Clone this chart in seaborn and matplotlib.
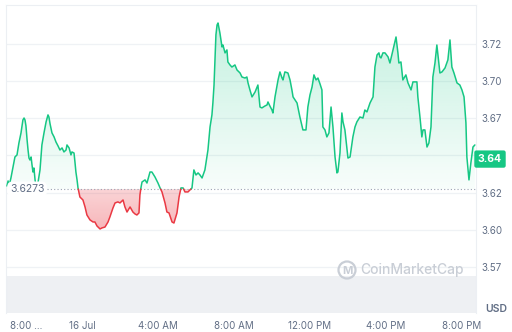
import numpy as np
import pandas as pd
import matplotlib
matplotlib.use("Agg")
import matplotlib.pyplot as plt
import matplotlib.transforms as mtransforms
from matplotlib.path import Path
from matplotlib.patches import Ellipse
import seaborn as sns

# ---------------- data (hours relative to 16 Jul 00:00, price in USD) -------------
hours = [-3.95, -3.89, -3.84, -3.74, -3.63, -3.53, -3.42, -3.32, -3.21, -3.11, -3.05, -3.00,
         -2.95, -2.89, -2.84, -2.79, -2.74, -2.68, -2.63, -2.58, -2.53, -2.47, -2.42, -2.32,
         -2.21, -2.11, -2.00, -1.89, -1.79, -1.74, -1.68, -1.58, -1.47, -1.37, -1.26, -1.16,
         -1.05, -0.95, -0.84, -0.79, -0.68, -0.58, -0.53, -0.42, -0.37, -0.32, -0.26, -0.21,
         -0.11, 0.05, 0.16, 0.26, 0.42, 0.58, 0.68, 0.79, 0.95, 1.05, 1.21, 1.37, 1.47, 1.63,
         1.74, 1.89, 2.00, 2.16, 2.26, 2.37, 2.53, 2.68, 2.79, 2.89, 3.00, 3.05, 3.11, 3.16,
         3.32, 3.42, 3.58, 3.68, 3.84, 4.00, 4.11, 4.21, 4.37, 4.47, 4.58, 4.74, 4.84, 5.00,
         5.11, 5.21, 5.32, 5.42, 5.58, 5.68, 5.79, 5.89, 6.00, 6.11, 6.21, 6.32, 6.47, 6.63,
         6.74, 6.84, 6.89, 6.95, 7.00, 7.05, 7.11, 7.16, 7.21, 7.26, 7.37, 7.42, 7.53, 7.63,
         7.68, 7.79, 7.89, 8.05, 8.16, 8.32, 8.42, 8.58, 8.68, 8.74, 8.84, 8.95, 9.11, 9.26,
         9.37, 9.47, 9.63, 9.74, 9.79, 9.89, 10.00, 10.05, 10.16, 10.32, 10.42, 10.53, 10.58,
         10.68, 10.84, 10.95, 11.05, 11.11, 11.21, 11.32, 11.47, 11.63, 11.79, 11.89, 12.00,
         12.11, 12.21, 12.32, 12.42, 12.53, 12.63, 12.68, 12.79, 12.89, 13.00, 13.11, 13.21,
         13.32, 13.42, 13.47, 13.58, 13.68, 13.74, 13.84, 14.00, 14.11, 14.26, 14.37, 14.47,
         14.63, 14.79, 14.89, 15.00, 15.16, 15.32, 15.42, 15.53, 15.63, 15.68, 15.74, 15.84,
         15.95, 16.11, 16.21, 16.37, 16.53, 16.63, 16.68, 16.79, 16.89, 17.05, 17.16, 17.32,
         17.42, 17.63, 17.68, 17.79, 17.89, 17.95, 18.05, 18.16, 18.26, 18.37, 18.47, 18.58,
         18.68, 18.84, 18.95, 19.11, 19.26, 19.37, 19.47, 19.58, 19.74, 19.89, 20.00, 20.11,
         20.21, 20.26, 20.37, 20.47, 20.58, 20.68]

prices = [3.6294, 3.6328, 3.6294, 3.6348, 3.6422, 3.6489, 3.6503, 3.6583, 3.6651, 3.6738, 3.6751, 3.6738,
          3.6698, 3.6604, 3.6536, 3.6482, 3.6469, 3.6489, 3.6435, 3.6388, 3.6415, 3.6335, 3.6294, 3.6314,
          3.6402, 3.6570, 3.6651, 3.6725, 3.6772, 3.6758, 3.6711, 3.6651, 3.6624, 3.6590, 3.6563, 3.6536,
          3.6550, 3.6523, 3.6536, 3.6570, 3.6550, 3.6503, 3.6523, 3.6516, 3.6455, 3.6388, 3.6335, 3.6281,
          3.6220, 3.6200, 3.6153, 3.6099, 3.6066, 3.6052, 3.6052, 3.6025, 3.6005, 3.6012, 3.6018, 3.6052,
          3.6086, 3.6146, 3.6180, 3.6187, 3.6180, 3.6200, 3.6153, 3.6119, 3.6153, 3.6119, 3.6106, 3.6099,
          3.6113, 3.6234, 3.6287, 3.6321, 3.6335, 3.6314, 3.6388, 3.6388, 3.6355, 3.6314, 3.6281, 3.6254,
          3.6180, 3.6119, 3.6113, 3.6052, 3.6045, 3.6113, 3.6220, 3.6281, 3.6281, 3.6254, 3.6254, 3.6267,
          3.6281, 3.6402, 3.6368, 3.6382, 3.6368, 3.6348, 3.6402, 3.6536, 3.6691, 3.6772, 3.6852, 3.6973,
          3.7142, 3.7310, 3.7377, 3.7390, 3.7357, 3.7323, 3.7229, 3.7242, 3.7189, 3.7209, 3.7128, 3.7108,
          3.7094, 3.7108, 3.7074, 3.7054, 3.7027, 3.7020, 3.7027, 3.6987, 3.6940, 3.6893, 3.6926, 3.6973,
          3.6825, 3.6819, 3.6832, 3.6839, 3.6859, 3.6832, 3.6805, 3.6785, 3.6893, 3.7007, 3.7061, 3.7020,
          3.7007, 3.7061, 3.7054, 3.7007, 3.6940, 3.6893, 3.6873, 3.6852, 3.6758, 3.6671, 3.6671, 3.6825,
          3.6906, 3.6960, 3.7041, 3.7007, 3.7020, 3.6980, 3.6940, 3.6691, 3.6671, 3.6624, 3.6651, 3.6825,
          3.6691, 3.6489, 3.6382, 3.6388, 3.6516, 3.6785, 3.6725, 3.6671, 3.6482, 3.6489, 3.6624, 3.6691,
          3.6725, 3.6758, 3.6751, 3.6805, 3.6792, 3.6852, 3.6893, 3.7094, 3.7175, 3.7189, 3.7162, 3.7155,
          3.7189, 3.7189, 3.7162, 3.7121, 3.7209, 3.7296, 3.7189, 3.7121, 3.7128, 3.7007, 3.7041, 3.6987,
          3.6940, 3.6994, 3.6994, 3.6893, 3.6758, 3.6624, 3.6671, 3.6671, 3.6556, 3.6583, 3.6691, 3.7027,
          3.7121, 3.7242, 3.7054, 3.7061, 3.7088, 3.7142, 3.7276, 3.7094, 3.7054, 3.6987, 3.6973, 3.6940,
          3.6893, 3.6718, 3.6489, 3.6335, 3.6449, 3.6556, 3.6570]

base_price = 3.6273
base_label = "3.6273"
last_price_label = "3.64"
last_badge_level = 3.6475

ytick_values = [3.575, 3.600, 3.625, 3.650, 3.675, 3.700, 3.725]
ytick_labels = ["3.57", "3.60", "3.62", "", "3.67", "3.70", "3.72"]
xtick_values = [-4, 0, 4, 8, 12, 16, 20]
xtick_labels = ["8:00 ...", "16 Jul", "4:00 AM", "8:00 AM", "12:00 PM", "4:00 PM", "8:00 PM"]
volume_top = 3.5689

# ---------------- style ----------------
sns.set_theme(style="white")
plt.rcParams["font.family"] = ["Inter", "DejaVu Sans"]

GREEN = "#16c784"
RED = "#ea3943"
GREY_TXT = "#616e85"
GRID = "#eff2f5"

W, H = 512, 332
fig = plt.figure(figsize=(W / 100, H / 100), dpi=100)
ax_l, ax_r, ax_t, ax_b = 6, 476, 5, 313
ax = fig.add_axes([ax_l / W, 1 - ax_b / H, (ax_r - ax_l) / W, (ax_b - ax_t) / H])

xmin, xmax = -4.0, 20.74
ymin, ymax = 3.5440, 3.7511
ax.set_xlim(xmin, xmax)
ax.set_ylim(ymin, ymax)

# ---------------- split series into above / below baseline segments ----------------
t = np.array(hours, dtype=float)
v = np.array(prices, dtype=float)
rows = []
seg_id = 0
side = v[0] >= base_price
cur = [(t[0], v[0])]
tt, vv = [t[0]], [v[0]]
for i in range(1, len(t)):
    s = v[i] >= base_price
    if s != side:
        tc = t[i - 1] + (base_price - v[i - 1]) * (t[i] - t[i - 1]) / (v[i] - v[i - 1])
        cur.append((tc, base_price))
        tt.append(tc); vv.append(base_price)
        for a, b in cur:
            rows.append((a, b, seg_id, "up" if side else "down"))
        seg_id += 1
        cur = [(tc, base_price)]
        side = s
    cur.append((t[i], v[i]))
    tt.append(t[i]); vv.append(v[i])
for a, b in cur:
    rows.append((a, b, seg_id, "up" if side else "down"))
df = pd.DataFrame(rows, columns=["hour", "price", "seg", "side"])
tt = np.array(tt); vv = np.array(vv)

# ---------------- grid ----------------
for yv in ytick_values:
    ax.axhline(yv, color=GRID, lw=0.9, zorder=0.6)

# ---------------- gradient fills ----------------
def gradient_fill(mask, rgb, a0, a1, y0, y1):
    poly = ax.fill_between(tt, vv, base_price, where=mask, facecolor="none",
                           edgecolor="none", interpolate=False)
    paths = poly.get_paths()
    poly.remove()
    if not paths:
        return
    comp = Path.make_compound_path(*paths)
    n = 256
    grad = np.zeros((n, 1, 4))
    grad[:, 0, 0:3] = matplotlib.colors.to_rgb(rgb)
    grad[:, 0, 3] = np.linspace(a0, a1, n)
    im = ax.imshow(grad, extent=[xmin, xmax, y0, y1], origin="lower",
                   aspect="auto", zorder=1, interpolation="bilinear")
    im.set_clip_path(comp, ax.transData)

gradient_fill(vv >= base_price, GREEN, 0.03, 0.26, base_price, 3.742)
gradient_fill(vv <= base_price, RED, 0.38, 0.22, 3.598, base_price)
ax.set_xlim(xmin, xmax)
ax.set_ylim(ymin, ymax)

# ---------------- volume band ----------------
ax.axhspan(ymin, volume_top, xmin=0, xmax=1, facecolor="#eef0f3", edgecolor="none", zorder=2.5)

# ---------------- price line ----------------
sns.lineplot(data=df, x="hour", y="price", units="seg", hue="side", estimator=None,
             palette={"up": GREEN, "down": RED}, linewidth=1.1, legend=False,
             ax=ax, zorder=3, sort=False)

# ---------------- baseline ----------------
ax.plot([-1.85, xmax], [base_price, base_price], ls=(0, (1, 2)), color="#9aa3b2",
        lw=0.8, zorder=2)
ax.text(-2.89, base_price, base_label, ha="center", va="center", fontsize=7.5,
        color=GREY_TXT, zorder=4,
        bbox=dict(boxstyle="round,pad=0.25,rounding_size=0.5", fc="white", ec="none"))

# ---------------- axes / ticks ----------------
ax.set_xlabel(""); ax.set_ylabel("")
ax.yaxis.tick_right()
ax.set_yticks(ytick_values)
ax.set_yticklabels(ytick_labels)
ax.set_xticks(xtick_values)
ax.set_xticklabels(xtick_labels)
ax.tick_params(axis="both", length=0, labelsize=7, labelcolor=GREY_TXT)
ax.tick_params(axis="y", pad=4)
ax.tick_params(axis="x", pad=5.5)
first = ax.get_xticklabels()[0]
first.set_ha("left")
first.set_transform(first.get_transform() + mtransforms.ScaledTranslation(4 / 100, 0, fig.dpi_scale_trans))
for name in ["left", "top", "right"]:
    ax.spines[name].set_visible(True)
    ax.spines[name].set_color("#eceff3")
    ax.spines[name].set_linewidth(0.8)
ax.spines["bottom"].set_visible(False)
ax.grid(False)

# ---------------- last price badge ----------------
bt = mtransforms.blended_transform_factory(ax.transAxes, ax.transData)
ax.text(1.0 + (490 - ax_r) / (ax_r - ax_l), last_badge_level, last_price_label, transform=bt,
        ha="center", va="center", fontsize=7.5, fontweight="bold", color="white",
        clip_on=False, zorder=5,
        bbox=dict(boxstyle="round,pad=0.35,rounding_size=0.2", fc=GREEN, ec="none"))

# ---------------- USD & watermark ----------------
fig.text(496 / W, 1 - 309 / H, "USD", ha="center", va="center", fontsize=7.5,
         fontweight="semibold", color=GREY_TXT)
wm_col = "#c9ced6"
fig.patches.append(Ellipse((347 / W, 1 - 270 / H), 17 / W, 17 / H, transform=fig.transFigure,
                           fill=False, ec=wm_col, lw=1.6))
fig.text(347 / W, 1 - 271 / H, "M", ha="center", va="center", fontsize=8, color=wm_col,
         fontweight="bold")
fig.text(360 / W, 1 - 270 / H, "CoinMarketCap", ha="left", va="center", fontsize=10,
         color=wm_col, fontweight="medium")

fig.savefig("out.png", dpi=100)
